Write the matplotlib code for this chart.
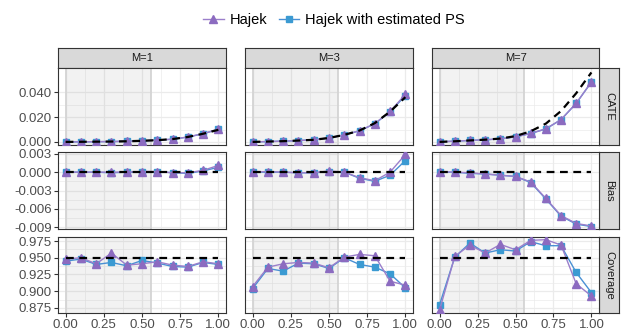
import matplotlib.pyplot as plt
import numpy as np
from matplotlib.lines import Line2D

plt.rcParams['font.family'] = ['Liberation Sans', 'DejaVu Sans']

# data
x = [0.0, 0.1, 0.2, 0.3, 0.4, 0.5, 0.6, 0.7, 0.8, 0.9, 1.0]
m_labels = ['M=1', 'M=3', 'M=7']
row_labels = ['CATE', 'Bias', 'Coverage']

cate_true = [
    [0.0000, 0.0001, 0.0002, 0.0003, 0.0005, 0.0009, 0.0014, 0.0023, 0.0040, 0.0066, 0.0098],
    [0.0000, 0.0003, 0.0006, 0.0011, 0.0017, 0.0032, 0.0057, 0.0092, 0.0152, 0.0245, 0.0362],
    [0.0000, 0.0005, 0.0012, 0.0018, 0.0027, 0.0047, 0.0086, 0.0148, 0.0250, 0.0394, 0.0562],
]
cate_hajek = [
    [0.0000, 0.0001, 0.0002, 0.0003, 0.0005, 0.0009, 0.0014, 0.0022, 0.0040, 0.0067, 0.0104],
    [0.0000, 0.0003, 0.0006, 0.0011, 0.0017, 0.0032, 0.0057, 0.0090, 0.0148, 0.0247, 0.0385],
    [0.0001, 0.0006, 0.0012, 0.0017, 0.0025, 0.0041, 0.0069, 0.0106, 0.0181, 0.0313, 0.0485],
]
cate_est = [
    [0.0000, 0.0001, 0.0002, 0.0003, 0.0005, 0.0009, 0.0014, 0.0022, 0.0039, 0.0066, 0.0101],
    [0.0000, 0.0003, 0.0006, 0.0011, 0.0017, 0.0032, 0.0057, 0.0090, 0.0147, 0.0244, 0.0374],
    [0.0001, 0.0006, 0.0012, 0.0017, 0.0025, 0.0041, 0.0068, 0.0105, 0.0180, 0.0312, 0.0484],
]
bias_hajek = [
    [0.0000, 0.0000, 0.0000, 0.0000, 0.0000, 0.0001, 0.0001, -0.0001, -0.0001, 0.0003, 0.0011],
    [0.0000, 0.0001, 0.0000, -0.0001, -0.0001, 0.0002, 0.0000, -0.0009, -0.0014, 0.0000, 0.0029],
    [0.0001, 0.0000, -0.0001, -0.0003, -0.0005, -0.0007, -0.0016, -0.0043, -0.0071, -0.0084, -0.0088],
]
bias_est = [
    [0.0000, 0.0000, 0.0000, -0.0001, 0.0000, 0.0000, 0.0001, -0.0001, -0.0002, 0.0002, 0.0008],
    [0.0000, 0.0000, 0.0000, -0.0001, -0.0001, 0.0001, 0.0000, -0.0010, -0.0015, -0.0005, 0.0019],
    [0.0000, 0.0000, -0.0002, -0.0003, -0.0005, -0.0007, -0.0017, -0.0044, -0.0072, -0.0085, -0.0089],
]
cov_hajek = [
    [0.948, 0.950, 0.941, 0.957, 0.939, 0.941, 0.944, 0.939, 0.937, 0.944, 0.941],
    [0.907, 0.936, 0.941, 0.943, 0.942, 0.935, 0.951, 0.955, 0.953, 0.915, 0.909],
    [0.872, 0.952, 0.969, 0.957, 0.970, 0.962, 0.976, 0.977, 0.969, 0.911, 0.893],
]
cov_est = [
    [0.945, 0.948, 0.940, 0.943, 0.938, 0.946, 0.942, 0.937, 0.936, 0.943, 0.940],
    [0.904, 0.934, 0.930, 0.942, 0.941, 0.934, 0.950, 0.940, 0.936, 0.926, 0.905],
    [0.880, 0.951, 0.972, 0.957, 0.962, 0.960, 0.974, 0.968, 0.968, 0.928, 0.898],
]

truth_rows = [cate_true, None, None]
ref_lines = [None, 0.0, 0.95]
hajek_rows = [cate_hajek, bias_hajek, cov_hajek]
est_rows = [cate_est, bias_est, cov_est]

yticks = [[0.0, 0.02, 0.04], [0.003, 0.0, -0.003, -0.006, -0.009],
          [0.875, 0.9, 0.925, 0.95, 0.975]]
ylims = [(-0.0025, 0.0598), (-0.0093, 0.0033), (0.8675, 0.981)]
shade = (0.003, 0.557)

purple = '#8c6bc0'
purple_line = '#9b7fcb'
blue = '#3b9ad2'
blue_line = '#4a90d4'

W, H = 642, 336
fig = plt.figure(figsize=(W / 100, H / 100), dpi=100)

col_x = [(58, 226), (245, 413), (432, 599)]
row_y = [(68, 145), (152, 229), (237, 313)]


def rect(x0, y0, x1, y1):
    return [x0 / W, 1 - y1 / H, (x1 - x0) / W, (y1 - y0) / H]


def strip(x0, y0, x1, y1, label, rot=0):
    sa = fig.add_axes(rect(x0, y0, x1, y1))
    sa.set_facecolor('#d9d9d9')
    sa.set_xticks([])
    sa.set_yticks([])
    for s in sa.spines.values():
        s.set_color('#333333')
        s.set_linewidth(0.8)
    sa.text(0.5, 0.5, label, rotation=rot, ha='center', va='center',
            fontsize=8, color='#1a1a1a', transform=sa.transAxes)


for c in range(3):
    strip(col_x[c][0], 48, col_x[c][1], 68, m_labels[c])
for r in range(3):
    strip(599, row_y[r][0], 619, row_y[r][1], row_labels[r], rot=-90)

for r in range(3):
    for c in range(3):
        ax = fig.add_axes(rect(col_x[c][0], row_y[r][0], col_x[c][1], row_y[r][1]))
        ax.set_xlim(-0.05, 1.05)
        ax.set_ylim(*ylims[r])
        ax.set_xticks([0, 0.25, 0.5, 0.75, 1.0])
        ax.set_xticks([0.125, 0.375, 0.625, 0.875], minor=True)
        yt = sorted(yticks[r])
        ax.set_yticks(yt)
        ax.set_yticks([(a + b) / 2 for a, b in zip(yt[:-1], yt[1:])], minor=True)
        ax.grid(which='major', color='#ebebeb', lw=0.9, zorder=0)
        ax.grid(which='minor', color='#ebebeb', lw=0.5, zorder=0)
        ax.set_axisbelow(True)
        for s in ax.spines.values():
            s.set_color('#333333')
            s.set_linewidth(0.8)

        ax.axvspan(shade[0], shade[1], color='#808080', alpha=0.1, lw=0, zorder=1)
        ax.axvline(shade[0], color='#d4d4d4', lw=1.3, zorder=1)
        ax.axvline(shade[1], color='#d4d4d4', lw=1.3, zorder=1)

        ax.plot(x, est_rows[r][c], color=blue_line, lw=1.0, marker='s', ms=4.4,
                mfc=blue, mec=blue, zorder=3)
        ax.plot(x, hajek_rows[r][c], color=purple_line, lw=1.0, marker='^', ms=5.3,
                mfc=purple, mec=purple, zorder=4)
        if truth_rows[r] is not None:
            ax.plot(x, truth_rows[r][c], color='black', lw=1.6, ls=(0, (3.5, 2.5)), zorder=5)
        else:
            ax.plot([0, 1], [ref_lines[r]] * 2, color='black', lw=1.6,
                    ls=(0, (3.5, 2.5)), zorder=5)

        ax.tick_params(which='minor', length=0)
        ax.tick_params(which='major', length=3, width=0.8, color='#333333',
                       labelsize=9.5, labelcolor='#4d4d4d', pad=1.5)
        if c == 0:
            ax.set_yticklabels(['%.3f' % v for v in yt])
        else:
            ax.tick_params(axis='y', length=0, labelleft=False)
        if r == 2:
            ax.set_xticklabels(['0.00', '0.25', '0.50', '0.75', '1.00'])
        else:
            ax.tick_params(axis='x', length=0, labelbottom=False)

handles = [
    Line2D([], [], color=purple_line, lw=1.0, marker='^', ms=5.3, mfc=purple, mec=purple),
    Line2D([], [], color=blue_line, lw=1.0, marker='s', ms=4.4, mfc=blue, mec=blue),
]
fig.legend(handles, ['Hajek', 'Hajek with estimated PS'], loc='center',
           bbox_to_anchor=(0.52, 1 - 20 / H), ncol=2, frameon=False, fontsize=10.5,
           handlelength=1.4, handletextpad=0.4, columnspacing=0.8)

fig.savefig('out.png', dpi=100)
